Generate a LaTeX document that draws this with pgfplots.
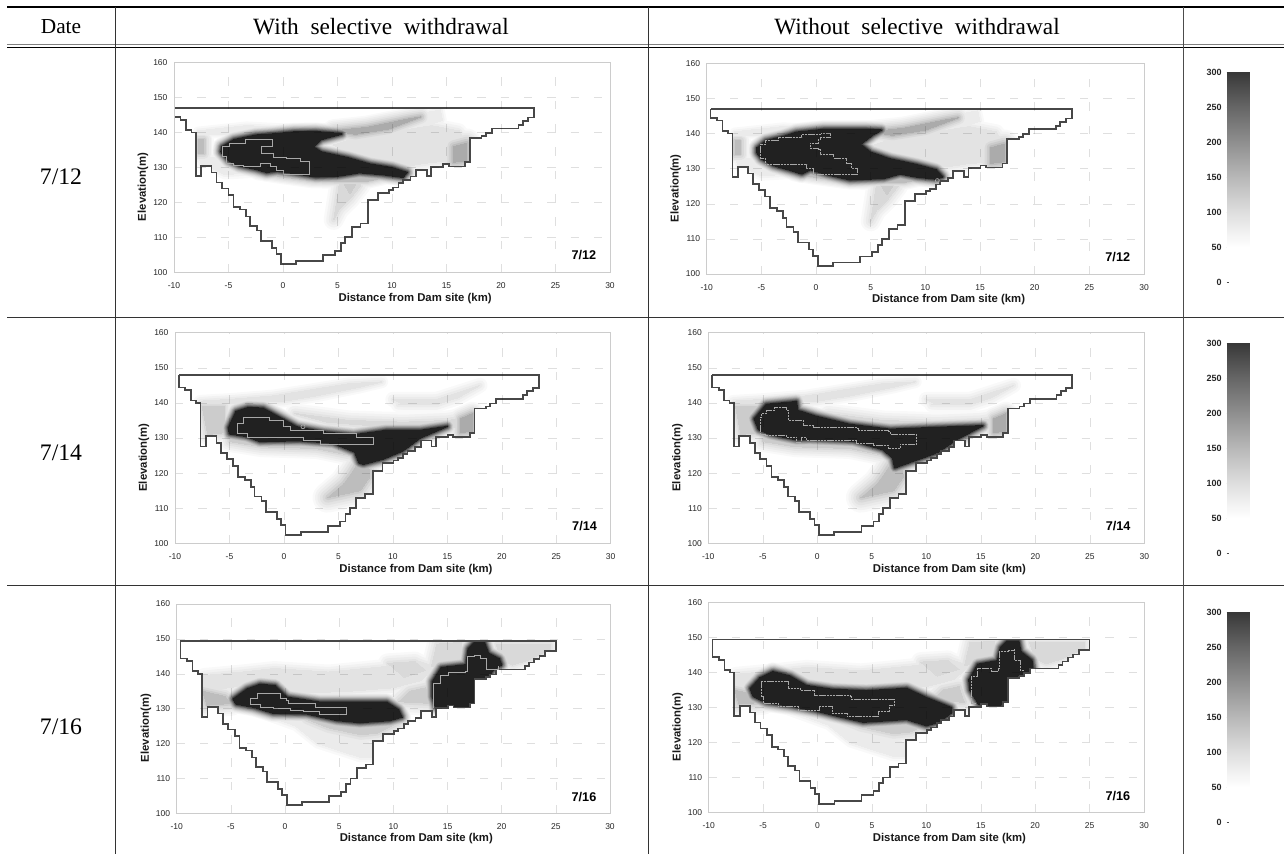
\documentclass[border=0pt]{standalone}
\usepackage{fontspec}
\setmainfont{Liberation Serif}
\setsansfont{Liberation Sans}
\usepackage{pgfplots}
\usepackage{pgfplotstable}
\pgfplotsset{compat=1.18}
\definecolor{lv1}{gray}{0.975}
\definecolor{lv2}{gray}{0.95}
\definecolor{lv3}{gray}{0.92}
\definecolor{lv4}{gray}{0.89}
\definecolor{lv5}{gray}{0.85}
\definecolor{lv6}{gray}{0.80}
\definecolor{lv7}{gray}{0.74}
\definecolor{lv8}{gray}{0.67}
\definecolor{lv9}{gray}{0.59}
\definecolor{lv10}{gray}{0.50}
\definecolor{lv11}{gray}{0.40}
\definecolor{lv12}{gray}{0.30}
\definecolor{lv13}{gray}{0.20}
\definecolor{lv14}{gray}{0.13}
\definecolor{rim}{gray}{0.28}
\definecolor{cont}{gray}{0.66}
\newcommand\T[2]{\pgfplotstableread[row sep=\\]{x y\\#2}#1}
% ---------- reservoir outlines (mask rectangle first, then the section)
\T\outA{-10 160\\30 160\\30 100\\-10 100\\-10 160\\
-9.65 147\\-9.65 144.4\\-9.05 144.4\\-9.05 143.7\\-8.55 143.7\\-8.55 140.7\\-8.05 140.7\\-8.05 140\\-7.65 140\\-7.65 127.6\\-7.15 127.6\\-7.15 130.5\\-6.2 130.5\\-6.2 128.6\\-5.75 128.6\\-5.75 125.7\\-5.25 125.7\\-5.25 124\\-4.65 124\\-4.65 122.1\\-4.2 122.1\\-4.2 118.8\\-3.6 118.8\\-3.6 118\\-3.05 118\\-3.05 116\\-2.7 116\\-2.7 113.3\\-2.05 113.3\\-2.05 112\\-1.65 112\\-1.65 109\\-0.65 109\\-0.65 107\\-0.25 107\\-0.25 105.2\\0.15 105.2\\0.15 102.3\\1.55 102.3\\1.55 103.3\\4.05 103.3\\4.05 105\\5.15 105\\5.15 106.2\\5.65 106.2\\5.65 108.3\\6.05 108.3\\6.05 110\\6.65 110\\6.65 112.9\\7.45 112.9\\7.45 114\\8.15 114\\8.15 120.7\\9.05 120.7\\9.05 122.8\\10.05 122.8\\10.05 123.6\\10.45 123.6\\10.45 124.3\\10.95 124.3\\10.95 125.5\\11.35 125.5\\11.35 126.4\\12.05 126.4\\12.05 127.4\\12.55 127.4\\12.55 129.3\\13.55 129.3\\13.55 127.6\\13.95 127.6\\13.95 130.2\\15.05 130.2\\15.05 130.9\\15.55 130.9\\15.55 130.3\\17.05 130.3\\17.05 131.5\\17.5 131.5\\17.5 138.4\\18.55 138.4\\18.55 139\\18.95 139\\18.95 139.8\\19.5 139.8\\19.5 141.2\\21.95 141.2\\21.95 142.2\\22.35 142.2\\22.35 143.3\\22.85 143.3\\22.85 144.3\\23.4 144.3\\23.4 147\\-9.65 147\\}
\T\outB{-10 160\\30 160\\30 100\\-10 100\\-10 160\\
-9.65 148\\-9.65 144.4\\-9.05 144.4\\-9.05 143.7\\-8.55 143.7\\-8.55 140.7\\-8.05 140.7\\-8.05 140\\-7.65 140\\-7.65 127.6\\-7.15 127.6\\-7.15 130.5\\-6.2 130.5\\-6.2 128.6\\-5.75 128.6\\-5.75 125.7\\-5.25 125.7\\-5.25 124\\-4.65 124\\-4.65 122.1\\-4.2 122.1\\-4.2 118.8\\-3.6 118.8\\-3.6 118\\-3.05 118\\-3.05 116\\-2.7 116\\-2.7 113.3\\-2.05 113.3\\-2.05 112\\-1.65 112\\-1.65 109\\-0.65 109\\-0.65 107\\-0.25 107\\-0.25 105.2\\0.15 105.2\\0.15 102.3\\1.55 102.3\\1.55 103.3\\4.05 103.3\\4.05 105\\5.15 105\\5.15 106.2\\5.65 106.2\\5.65 108.3\\6.05 108.3\\6.05 110\\6.65 110\\6.65 112.9\\7.45 112.9\\7.45 114\\8.15 114\\8.15 120.7\\9.05 120.7\\9.05 122.8\\10.05 122.8\\10.05 123.6\\10.45 123.6\\10.45 124.3\\10.95 124.3\\10.95 125.5\\11.35 125.5\\11.35 126.4\\12.05 126.4\\12.05 127.4\\12.55 127.4\\12.55 129.3\\13.55 129.3\\13.55 127.6\\13.95 127.6\\13.95 130.2\\15.05 130.2\\15.05 130.9\\15.55 130.9\\15.55 130.3\\17.05 130.3\\17.05 131.5\\17.5 131.5\\17.5 138.4\\18.55 138.4\\18.55 139\\18.95 139\\18.95 139.8\\19.5 139.8\\19.5 141.2\\21.95 141.2\\21.95 142.2\\22.35 142.2\\22.35 143.3\\22.85 143.3\\22.85 144.3\\23.4 144.3\\23.4 148\\-9.65 148\\}
\T\outC{-10 160\\30 160\\30 100\\-10 100\\-10 160\\
-9.65 149.5\\-9.65 144.4\\-9.05 144.4\\-9.05 143.7\\-8.55 143.7\\-8.55 140.7\\-8.05 140.7\\-8.05 140\\-7.65 140\\-7.65 127.6\\-7.15 127.6\\-7.15 130.5\\-6.2 130.5\\-6.2 128.6\\-5.75 128.6\\-5.75 125.7\\-5.25 125.7\\-5.25 124\\-4.65 124\\-4.65 122.1\\-4.2 122.1\\-4.2 118.8\\-3.6 118.8\\-3.6 118\\-3.05 118\\-3.05 116\\-2.7 116\\-2.7 113.3\\-2.05 113.3\\-2.05 112\\-1.65 112\\-1.65 109\\-0.65 109\\-0.65 107\\-0.25 107\\-0.25 105.2\\0.15 105.2\\0.15 102.3\\1.55 102.3\\1.55 103.3\\4.05 103.3\\4.05 105\\5.15 105\\5.15 106.2\\5.65 106.2\\5.65 108.3\\6.05 108.3\\6.05 110\\6.65 110\\6.65 112.9\\7.45 112.9\\7.45 114\\8.15 114\\8.15 120.7\\9.05 120.7\\9.05 122.8\\10.05 122.8\\10.05 123.6\\10.45 123.6\\10.45 124.3\\10.95 124.3\\10.95 125.5\\11.35 125.5\\11.35 126.4\\12.05 126.4\\12.05 127.4\\12.55 127.4\\12.55 129.3\\13.55 129.3\\13.55 127.6\\13.95 127.6\\13.95 130.2\\15.05 130.2\\15.05 130.9\\15.55 130.9\\15.55 130.3\\17.05 130.3\\17.05 131.5\\17.5 131.5\\17.5 138.4\\18.55 138.4\\18.55 139\\18.95 139\\18.95 139.8\\19.5 139.8\\19.5 141.2\\22.15 141.2\\22.15 142.2\\22.5 142.2\\22.5 143.2\\23 143.2\\23 144.3\\23.5 144.3\\23.5 145.2\\24 145.2\\24 146.5\\25 146.5\\25 149.5\\-9.65 149.5\\}
% ---------- row 1 haze
\T\hAa{-7.5 140.5\\-3 142\\0 141.5\\5 141.5\\9 143\\13 145.5\\14.8 146.5\\15 143.5\\13 141.5\\10 140\\6.5 139.5\\1 141\\-5 139.5\\-7.5 139.5\\}
\T\hAb{5 140.5\\8 141.5\\12 144\\13 144.5\\10 141\\7 139.5\\}
\T\hAc{5 136.5\\7 138.5\\11 140.5\\14 142\\16.5 140.5\\17 138\\17 132\\14 131.5\\12 130.5\\9 132\\6 134.5\\}
\T\hAd{16 136\\17.2 137\\17.2 132\\16 131.5\\}
\T\hAe{-7.4 138\\-6.9 138\\-6.9 134\\-7.4 134\\}
\T\hAf{-7.4 133\\-5.5 133\\-4 130\\-2 128.5\\-5 128\\-6 129.5\\-7.1 130.7\\}
\T\hAg{-2 128.5\\0 127.5\\3 126.2\\6 126\\8 126\\9.5 127\\7 128\\3 127.5\\}
\T\hAh{5.5 125\\7.5 125\\6.5 121\\5.5 118\\5 115\\}
\T\hAi{6 125\\7 125\\6.5 122.5\\}
% ---------- row 2 haze
\T\hBa{-7.7 140.5\\-5 141\\-1 142\\3 144\\6 145.5\\9 146\\7 144.5\\3 142\\0 140.5\\-3 140\\-7.7 139.8\\}
\T\hBb{-7.5 139\\-5.5 139\\-5.5 131.5\\-7 131\\}
\T\hBc{1 137\\6 135\\11 134.5\\15 135\\17 136\\17 133\\15 133\\10 133\\4 134.5\\}
\T\hBd{10.5 139.5\\14 141\\18 145\\16 141.5\\14 139.5\\}
\T\hBe{16.2 135.5\\17.3 137\\17.3 132\\16.2 131.5\\}
\T\hBf{6.8 123\\7.8 121.5\\7.9 119\\7 115\\5.5 114\\4 113\\5.5 117\\6.2 120\\}
\T\hBg{-5 130\\-2 128.5\\2 128\\5 127.5\\6.2 125\\3 127\\-2 127.5\\-5 129\\}
\T\hBh{10 141\\15 141\\14 139.5\\11 139.5\\}
% ---------- row 3 haze
\T\hCa{-7.5 139.5\\-4 140.5\\-1 141.5\\4 140.5\\9 142\\12 144\\14 142\\12.5 138\\10 136\\6 135\\2 134.5\\-3 137\\-7.5 135\\}
\T\hCb{-7.6 135\\-5.5 133.5\\-5 131.5\\-7.2 131\\}
\T\hCc{10.5 132\\11.5 135\\13 136\\13.5 131.5\\}
\T\hCd{-3 129.5\\2 127\\3 125\\5 122\\8 120\\8 116\\7 116\\5 118\\3 120\\1 125\\}
\T\hCe{2 127\\8 125.5\\10.5 126\\8.5 123\\7 122.5\\4 124.5\\}
\T\hCf{19.5 148.5\\24.5 148.5\\24.5 147\\22.5 144\\21 142.5\\20 144\\}
\T\hCg{13.5 142\\14 148.5\\16.3 149\\16.3 143.5\\}
\T\hCh{9.5 143\\12 143.5\\13 141\\11 139\\}
% ---------- dense cores
\T\cA{-5.6 136\\-4.5 138\\-2.5 139.3\\-1 139.6\\1 140.2\\3 140.3\\5 139.8\\5.4 139.6\\3.5 138\\2.8 136\\3.5 134.5\\6 132.8\\8 131\\10 130\\11.4 128.6\\11 127.2\\9 128\\7 128.5\\5 127.5\\3 127.3\\1 128.3\\-0.5 129\\-1.5 128.6\\-2.5 129.5\\-4 130.5\\-5 132\\-5.7 134.5\\}
\T\cB{-5.4 135.9\\-4.6 138\\-3 139.2\\-1.8 140.4\\0.7 141.2\\4.6 141.2\\6 141\\5.2 139.6\\4.1 137\\5 134.7\\6.8 132.8\\9.2 131.2\\11 129.7\\11.6 127.7\\11 127\\9.2 127.6\\7.7 128.5\\6.2 127.2\\3.1 126.8\\1 128.3\\-0.5 129.7\\-1.3 128.5\\-2 129.2\\-3.9 130.9\\-5 132.8\\-5.4 134.5\\}
\T\cC{-5.1 133\\-4.4 137.6\\-3.3 138.7\\-1.9 138.5\\0 135.3\\1.2 133.2\\3.6 131.8\\6.4 130.9\\9.4 132.2\\12.5 132.2\\15 133.3\\12.5 130\\10.9 126.3\\9.1 124\\7.3 122.5\\6.9 122.9\\6.5 126\\4.5 128.5\\1.5 129.2\\-1 129.1\\-2.2 129\\-3.4 130.4\\-5 131.2\\}
\T\cD{-5.8 135.5\\-4.7 139.6\\-1.9 140.4\\-1.8 137.9\\-0.1 136.2\\3 133.9\\6.7 132.5\\10.6 133\\15.2 133.5\\12.8 129.6\\11 125.8\\8.8 123.4\\7.1 121.5\\6.9 124.4\\6 126.7\\3.3 129.1\\-0.7 129.6\\-1.9 129.5\\-4.3 131\\-5.4 132.4\\}
\T\cE{-4.8 132.8\\-3.5 135.7\\-2.3 137\\-0.9 136.6\\0.2 133.3\\3.2 131.9\\6.9 131.9\\9.4 131.9\\10.5 129.7\\10.8 127.6\\9.7 126.6\\6.9 126\\4.8 126.6\\2 128.5\\-1.1 128.7\\-2.9 130.4\\-4.5 131.3\\}
\T\cEe{13.6 137.8\\14.4 141.8\\16.7 142.6\\16.9 147.2\\17.5 149.2\\18.4 149.2\\18.8 145.9\\19.8 144.3\\20 142.6\\19.2 141\\18.6 138\\17.7 137.9\\17.7 131\\15.5 130.2\\13.9 130.4\\13.6 133.5\\}
\T\cF{-6.2 135.5\\-5.3 138.5\\-4.1 140.3\\-2.5 139\\-1 136.3\\1.4 135.2\\4.5 134.8\\8.2 135.5\\10 132.9\\12.3 130\\12.3 128.5\\11.2 125.8\\10 124.8\\8.2 126.6\\6.3 126.2\\4.2 125.8\\1.7 127.6\\-0.1 129\\-2.5 130.4\\-4.7 131.4\\-5.9 133.2\\}
\T\cFe{13.9 137.9\\14.7 142.4\\16.5 143.4\\16.8 147.2\\17.4 149\\18.5 149\\18.7 146\\19.7 143.6\\19.8 141.3\\18.9 139.5\\17.6 138.4\\17.6 130.9\\15.5 130.4\\14.8 131\\14 135\\}
% ---------- pale contours
\T\kA{-5.6 136\\-4.9 136.9\\-3.5 138.1\\-1 138.1\\-1 136\\-2 136\\-2 134\\-0.9 132.9\\0.3 132.6\\1.6 131.7\\2.4 130.7\\2.4 128.1\\0.95 128.1\\0 129.3\\-0.6 130.2\\-1.2 131.2\\-2.1 130.4\\-3.6 130.7\\-4.6 131.2\\-5.2 133.1\\-5.6 134.3\\-5.6 136\\}
\T\kB{-5.06 136.9\\-4.66 138.1\\-3.45 139\\-1.6 139\\-1.3 139.7\\0.2 139.7\\0.5 140.2\\1.3 140.2\\1.3 139\\0.37 138.3\\0.2 137.3\\-0.55 135.9\\0.2 135.4\\0.37 134\\1.6 133\\2.8 131.6\\3.26 130.2\\3.8 129.7\\3.8 128.3\\0.67 128.3\\-0.25 130.2\\-0.85 131.1\\-4.2 131.1\\-4.66 133\\-5.06 134\\-5.06 136.9\\}
\T\kC{-4.3 134.1\\-3.7 136\\-2.2 136\\-1.3 135.1\\-0.06 133.2\\0.55 132.2\\3 132.2\\3.6 131.3\\6.5 131.3\\6.67 130.3\\8.2 130.1\\8.2 128.2\\5.1 128.2\\3.3 129.4\\1.8 130.1\\-2.2 130.1\\-3.4 131.3\\-4.3 132.7\\-4.3 134.1\\}
\T\kD{-5.26 136\\-5.1 137\\-4.65 137.9\\-3.9 138.7\\-2.8 137.9\\-2.66 135.1\\-1.3 133.6\\-0.4 133\\3.6 132.7\\3.76 132.2\\6.5 131.8\\6.67 131\\9.1 130.8\\9.1 128.2\\8 128.2\\7.6 127\\6.5 128\\5.1 128.4\\3.6 129.4\\-1 130.1\\-1.44 128.9\\-1.9 130.3\\-2.8 130.8\\-4.8 131\\-5.26 132.7\\-5.26 136\\}
\T\kE{-3.2 133\\-2.6 134.3\\-0.6 134.3\\-0.46 133\\0.15 132.4\\0.3 131.4\\2.6 131.4\\2.8 130.5\\5.7 130.5\\5.7 128.5\\3.5 128.3\\3.2 129.2\\1.7 129.5\\0.46 130.2\\-1.1 130.5\\-2.3 131.1\\-3.2 131.3\\-3.2 133\\}
\T\kEe{13.75 130.5\\13.7 137.4\\14.3 139.5\\15.1 140.4\\16.6 140.7\\16.8 145\\17.5 145.2\\18 144.3\\18.6 141.2\\19.2 141.2\\19.7 142.3\\}
\T\kF{-5.2 137.4\\-2.7 137.4\\-2.7 135.5\\-1.6 135\\-0.25 133.6\\3 133.3\\3.1 132.3\\7.1 132.3\\7.1 130.7\\6.6 128.8\\5.6 127.4\\3.7 127.4\\2.7 128.3\\1.4 130.2\\0.7 130.2\\0.2 129.3\\-1.8 130.2\\-3.6 131.2\\-5 133.1\\-5.2 135\\-5.2 137.4\\}
\T\kFe{14.6 131.2\\14.1 135\\14.1 138.8\\14.7 141.2\\16 140.3\\16.6 141.2\\16.7 146\\17.5 146.5\\18.1 146.9\\18.1 143.6\\18.6 140.7\\19 140.7\\}
% ---------- colour bar
\T\barrows{0 50\\1 50\\0 100\\1 100\\0 150\\1 150\\0 200\\1 200\\0 250\\1 250\\0 299\\1 299\\0 300\\1 300\\}
% ---------- drawing helpers
\def\fs{0}
\newcommand\F[3]{\ifnum\curlevel>#2\relax\else
  \pgfmathsetlengthmacro\lw{(#2-\curlevel)*#3}%
  \edef\tmp{\noexpand\addplot[draw=lv\curlevel,fill=lv\curlevel,line width=\lw,line join=round,forget plot] table[x expr=\noexpand\thisrow{x}+\fs,y=y] {\noexpand#1} --cycle;}\tmp
\fi}
\newcommand\render[1]{\def\curlevel{1}#1\def\curlevel{2}#1\def\curlevel{3}#1\def\curlevel{4}#1\def\curlevel{5}#1\def\curlevel{6}#1\def\curlevel{7}#1\def\curlevel{8}#1\def\curlevel{9}#1\def\curlevel{10}#1\def\curlevel{11}#1\def\curlevel{12}#1\def\curlevel{13}#1\def\curlevel{14}#1}
\newcommand\hazeA{\F\hAa{3}{2.5pt}\F\hAc{4}{3pt}\F\hAf{3}{3pt}\F\hAh{5}{3pt}\F\hAb{8}{2pt}\F\hAd{8}{2.5pt}\F\hAe{7}{2pt}\F\hAi{6}{2pt}\F\hAg{7}{1.5pt}}
\newcommand\hazeB{\F\hBa{4}{2.5pt}\F\hBc{5}{3pt}\F\hBd{4}{3pt}\F\hBh{4}{3pt}\F\hBg{6}{2.5pt}\F\hBb{6}{2.5pt}\F\hBe{8}{2pt}\F\hBf{7}{3pt}}
\newcommand\hazeC{\F\hCa{4}{3pt}\F\hCd{3}{3pt}\F\hCf{5}{2.5pt}\F\hCg{5}{3pt}\F\hCh{5}{3pt}\F\hCb{7}{2.5pt}\F\hCc{6}{3pt}\F\hCe{6}{3pt}}
\newcommand\outl[2]{%
 \addplot[fill=white,draw=none,even odd rule,forget plot] table[x expr=\thisrow{x}+#2,y=y] {#1};
 \addplot[rim,line width=1.05pt,miter limit=4,skip coords between index={0}{5},forget plot] table[x expr=\thisrow{x}+#2,y=y] {#1};}
\pgfplotsset{
 sect/.style n args={4}{
  at={({#1*0.6pt},{-#4*0.6pt})},anchor=south west,scale only axis,
  width={(#2-#1)*0.6pt},height={(#4-#3)*0.6pt},
  xmin=-10,xmax=30,ymin=100,ymax=160,
  xtick={-10,-5,...,30},ytick={100,110,...,160},
  axis on top,
  grid=major,
  grid style={gray!25,line width=0.3pt,dash pattern=on 5pt off 9pt,blend mode=multiply},
  major tick length=0pt,
  axis line style={gray!40,line width=0.4pt},
  tick label style={font=\sffamily\fontsize{5.1}{6}\selectfont,/pgf/number format/assume math mode=true,text=black!85},
  xticklabel style={yshift=-2.6pt},
  yticklabel style={xshift=-0.4pt},
  xlabel={Distance from Dam site (km)},
  ylabel={Elevation(m)},
  label style={font=\sffamily\bfseries\fontsize{6.8}{8}\selectfont,text=black!90},
  xlabel style={at={(axis description cs:0.553,-0.123)},anchor=center},
  ylabel style={at={(axis description cs:-0.071,0.407)},anchor=center},
 },
 cbar/.style={
  at={(1226.5*0.6pt,{-#1*0.6pt})},anchor=south west,scale only axis,
  width=13.5pt,height=126pt,
  xmin=0,xmax=1,ymin=0,ymax=300,
  xtick=\empty,ytick={0,50,...,300},ytick pos=left,
  axis line style={draw=none},
  major tick length=1.2pt,
  tick style={black!70,line width=0.3pt},
  tick label style={font=\sffamily\bfseries\fontsize{5.4}{6}\selectfont,/pgf/number format/assume math mode=true,text=black!85},
  yticklabel style={xshift=0.6pt},
  colormap={bargray}{gray(0cm)=(1);gray(1cm)=(0.87);gray(2cm)=(0.72);gray(3cm)=(0.56);gray(4cm)=(0.40);gray(5cm)=(0.22)},
  point meta min=50,point meta max=300,
 },
}
\newcommand\colorbarplot{\addplot[surf,shader=interp,mesh/cols=2,point meta=y,forget plot] table[x=x,y=y] {\barrows};}
\newcommand\tagnode[1]{\node[font=\sffamily\bfseries\fontsize{7.6}{9}\selectfont] at (axis cs:27.6,104.8) {#1};}
\begin{document}
\begin{tikzpicture}[x=0.6pt,y=-0.6pt]
\path[use as bounding box] (0,0) rectangle (1284,854);
% ---------- table frame
\draw[black,line width=1.1pt] (7,7) -- (1284,7);
\draw[gray,line width=0.7pt] (7,44.5) -- (1284,44.5);
\draw[black,line width=0.8pt] (7,47.5) -- (1284,47.5);
\draw[black!80,line width=0.4pt] (7,317) -- (1284,317);
\draw[black!80,line width=0.4pt] (7,585) -- (1284,585);
\draw[black!80,line width=0.5pt] (115,7) -- (115,854);
\draw[black!80,line width=0.5pt] (648,7) -- (648,854);
\draw[black!70,line width=0.5pt] (1183,7) -- (1183,854);
\node[font=\fontsize{12.8}{16}\selectfont] at (61,27) {Date};
\node[font=\fontsize{14}{16}\selectfont] at (381,27) {With\ \ selective\ \ withdrawal};
\node[font=\fontsize{14}{16}\selectfont] at (917,27) {Without\ \ selective\ \ withdrawal};
\node[font=\fontsize{14.2}{19}\selectfont] at (61,177) {7/12};
\node[font=\fontsize{14.2}{19}\selectfont] at (61,453) {7/14};
\node[font=\fontsize{14.2}{19}\selectfont] at (61,727) {7/16};
% ---------- panel 1
\begin{axis}[sect={174}{610}{62.7}{272.3}]
\render{\def\fs{-0.35}\hazeA\def\fs{0}\F\cA{14}{0.85pt}}
\outl{\outA}{-0.35}
\addplot[cont,line width=0.4pt,const plot,forget plot] table {\kA};
\tagnode{7/12}
\end{axis}
% ---------- panel 2
\begin{axis}[sect={706.7}{1144}{63.3}{274}]
\render{\def\fs{0}\hazeA\F\cB{14}{0.85pt}}
\outl{\outA}{0}
\addplot[cont,line width=0.4pt,const plot,dash pattern=on 1.3pt off 0.4pt,forget plot] table {\kB};
\addplot[only marks,mark=o,mark size=1.2pt,cont,forget plot] coordinates {(11.1,126.6)};
\tagnode{7/12}
\end{axis}
% ---------- panel 3
\begin{axis}[sect={175}{610.7}{332.7}{543.3}]
\render{\def\fs{0}\hazeB\F\cC{14}{0.85pt}}
\outl{\outB}{0}
\addplot[cont,line width=0.4pt,const plot,forget plot] table {\kC};
\addplot[only marks,mark=o,mark size=1.2pt,cont,forget plot] coordinates {(1.75,133.2)};
\tagnode{7/14}
\end{axis}
% ---------- panel 4
\begin{axis}[sect={708.3}{1144.3}{332.7}{543.3}]
\render{\def\fs{0}\hazeB\F\cD{14}{0.85pt}}
\outl{\outB}{0}
\addplot[cont,line width=0.4pt,const plot,dash pattern=on 1.3pt off 0.4pt,forget plot] table {\kD};
\tagnode{7/14}
\end{axis}
% ---------- panel 5
\begin{axis}[sect={176.7}{610}{604}{813.3}]
\render{\def\fs{0}\hazeC\F\cE{14}{0.85pt}\F\cEe{14}{0.85pt}}
\outl{\outC}{0}
\addplot[cont,line width=0.4pt,const plot,forget plot] table {\kE};
\addplot[cont,line width=0.4pt,const plot,forget plot] table {\kEe};
\tagnode{7/16}
\end{axis}
% ---------- panel 6
\begin{axis}[sect={708.7}{1144}{602.7}{812.3}]
\render{\def\fs{0}\hazeC\F\cF{14}{0.85pt}\F\cFe{14}{0.85pt}}
\outl{\outC}{0}
\addplot[cont,line width=0.4pt,const plot,dash pattern=on 1.3pt off 0.4pt,forget plot] table {\kF};
\addplot[cont,line width=0.4pt,const plot,dash pattern=on 1.3pt off 0.4pt,forget plot] table {\kFe};
\tagnode{7/16}
\end{axis}
% ---------- colour bars
\begin{axis}[cbar=282]\colorbarplot\end{axis}
\begin{axis}[cbar=553]\colorbarplot\end{axis}
\begin{axis}[cbar=822]\colorbarplot\end{axis}
\end{tikzpicture}
\end{document}
